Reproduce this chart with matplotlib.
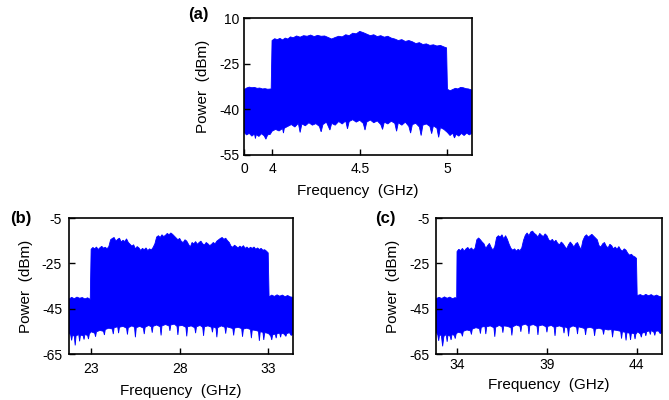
import numpy as np
import matplotlib
matplotlib.use("Agg")
import matplotlib.pyplot as plt

plt.rcParams['font.family'] = ['Liberation Sans', 'DejaVu Sans']

# spectrum envelopes: (frequency, dBm)
a_upper = [(3.84, -33.6), (3.855, -33.0), (3.87, -32.7), (3.885, -32.9), (3.90, -32.8), (3.915, -33.1),
           (3.93, -33.0), (3.945, -33.3), (3.96, -33.2), (3.975, -33.4), (3.995, -33.3),
           (4.00, -17.4), (4.015, -16.8), (4.03, -17.1), (4.045, -16.7), (4.06, -17.2), (4.075, -16.6),
           (4.09, -16.9), (4.105, -16.2), (4.12, -16.5), (4.14, -15.9), (4.16, -16.3), (4.18, -15.8),
           (4.20, -16.0), (4.22, -15.6), (4.24, -16.1), (4.26, -15.7), (4.28, -16.0), (4.30, -15.9),
           (4.32, -16.4), (4.34, -16.9), (4.36, -16.4), (4.38, -16.0), (4.40, -16.2), (4.42, -15.5),
           (4.44, -15.8), (4.46, -15.0), (4.48, -15.2), (4.50, -14.4), (4.52, -14.8), (4.54, -15.3),
           (4.56, -15.8), (4.58, -15.5), (4.60, -16.1), (4.62, -15.8), (4.64, -16.3), (4.66, -16.0),
           (4.68, -16.6), (4.70, -16.9), (4.72, -17.4), (4.74, -17.1), (4.76, -17.7), (4.78, -17.4),
           (4.80, -17.8), (4.82, -18.4), (4.84, -18.1), (4.86, -18.7), (4.88, -18.5), (4.90, -19.0),
           (4.92, -18.8), (4.94, -19.2), (4.96, -19.0), (4.98, -19.5), (4.995, -19.8),
           (5.00, -33.4), (5.015, -33.9), (5.03, -33.5), (5.045, -33.1), (5.06, -33.3), (5.075, -32.8),
           (5.09, -32.9), (5.105, -33.2), (5.12, -33.3), (5.14, -33.7)]
a_lower = [(3.84, -47.6), (3.855, -48.4), (3.87, -47.9), (3.885, -48.8), (3.90, -48.1), (3.905, -49.6),
           (3.91, -48.3), (3.925, -48.9), (3.94, -48.0), (3.955, -48.7), (3.965, -49.8), (3.975, -48.4),
           (3.99, -48.2),
           (4.00, -47.2), (4.02, -46.6), (4.04, -47.1), (4.06, -46.3), (4.065, -47.8), (4.07, -46.2),
           (4.09, -45.6), (4.11, -45.0), (4.13, -45.8), (4.15, -44.6), (4.16, -47.6), (4.17, -44.8),
           (4.19, -45.4), (4.21, -44.4), (4.23, -45.2), (4.25, -44.7), (4.27, -45.6), (4.28, -47.4),
           (4.29, -45.0), (4.31, -44.2), (4.33, -46.8), (4.34, -44.6), (4.36, -45.2), (4.38, -44.0),
           (4.40, -44.8), (4.42, -43.8), (4.43, -46.4), (4.44, -44.0), (4.46, -43.4), (4.48, -44.2),
           (4.50, -43.6), (4.52, -44.6), (4.53, -46.8), (4.54, -44.2), (4.56, -43.5), (4.58, -44.4),
           (4.60, -43.8), (4.62, -45.0), (4.63, -46.6), (4.64, -44.2), (4.66, -44.8), (4.68, -43.9),
           (4.70, -44.6), (4.71, -47.2), (4.72, -44.4), (4.74, -45.2), (4.76, -44.2), (4.78, -45.6),
           (4.79, -47.8), (4.80, -45.0), (4.82, -44.6), (4.84, -45.8), (4.85, -48.6), (4.86, -45.2),
           (4.88, -44.8), (4.90, -45.6), (4.91, -48.0), (4.92, -45.4), (4.94, -46.2), (4.95, -49.2),
           (4.96, -46.0), (4.98, -46.6),
           (5.00, -47.6), (5.015, -48.6), (5.03, -47.8), (5.04, -49.4), (5.05, -48.2), (5.065, -48.8),
           (5.08, -47.9), (5.095, -48.6), (5.11, -47.8), (5.125, -48.4), (5.14, -47.8)]

b_upper = [(21.75, -40.8), (21.9, -40.0), (22.05, -40.6), (22.2, -39.9), (22.35, -40.4), (22.5, -40.1),
           (22.65, -40.7), (22.8, -40.2), (22.95, -40.9),
           (23.0, -18.8), (23.1, -18.0), (23.2, -18.6), (23.3, -17.8), (23.4, -18.9), (23.5, -18.1),
           (23.6, -17.5), (23.7, -18.3), (23.8, -17.9), (23.9, -18.6), (24.0, -17.6), (24.1, -14.6),
           (24.2, -14.0), (24.3, -13.6), (24.4, -15.2), (24.5, -14.4), (24.6, -13.9), (24.7, -15.6),
           (24.8, -14.8), (24.9, -15.4), (25.0, -14.2), (25.1, -15.8), (25.2, -16.6), (25.3, -17.4),
           (25.4, -16.8), (25.5, -18.6), (25.6, -17.6), (25.7, -18.2), (25.8, -19.3), (25.9, -18.4),
           (26.0, -19.0), (26.1, -18.2), (26.2, -19.4), (26.3, -18.6), (26.4, -19.1), (26.5, -18.0),
           (26.6, -16.4), (26.7, -13.4), (26.8, -12.8), (26.9, -13.6), (27.0, -12.4), (27.1, -13.2),
           (27.2, -12.6), (27.3, -11.8), (27.4, -12.4), (27.5, -11.6), (27.6, -12.2), (27.7, -13.0),
           (27.8, -13.8), (27.9, -14.6), (28.0, -14.0), (28.1, -15.4), (28.2, -15.8), (28.3, -14.6),
           (28.4, -15.2), (28.5, -16.6), (28.6, -17.8), (28.7, -15.8), (28.8, -16.4), (28.9, -15.4),
           (29.0, -16.6), (29.1, -15.8), (29.2, -15.2), (29.3, -16.4), (29.4, -16.9), (29.5, -15.8),
           (29.6, -16.4), (29.7, -17.2), (29.8, -16.6), (29.9, -15.8), (30.0, -16.4), (30.1, -15.2),
           (30.2, -14.6), (30.3, -14.0), (30.4, -13.6), (30.5, -14.4), (30.6, -13.9), (30.7, -15.0),
           (30.8, -15.8), (30.9, -17.4), (31.0, -17.9), (31.1, -17.0), (31.2, -17.6), (31.3, -18.2),
           (31.4, -17.4), (31.5, -18.0), (31.6, -17.2), (31.7, -18.4), (31.8, -17.8), (31.9, -18.6),
           (32.0, -17.9), (32.1, -18.4), (32.2, -17.8), (32.3, -18.8), (32.4, -18.2), (32.5, -18.9),
           (32.6, -18.4), (32.7, -19.2), (32.8, -19.0), (32.9, -19.6), (33.0, -20.4),
           (33.05, -39.8), (33.2, -39.0), (33.35, -39.6), (33.5, -38.9), (33.65, -39.5), (33.8, -39.0),
           (33.95, -39.7), (34.1, -39.2), (34.25, -39.8), (34.4, -40.0)]
b_lower = [(21.75, -55.6), (21.85, -56.8), (21.9, -59.0), (21.95, -56.6), (22.05, -57.2), (22.1, -61.2),
           (22.15, -57.0), (22.3, -56.4), (22.35, -59.4), (22.4, -56.6), (22.55, -57.0), (22.6, -58.6),
           (22.65, -56.4), (22.8, -56.8), (22.85, -58.4), (22.9, -56.2),
           (23.0, -55.2), (23.2, -55.8), (23.25, -57.4), (23.3, -55.2), (23.5, -54.6), (23.7, -55.0),
           (23.75, -56.6), (23.8, -54.2), (24.0, -53.6), (24.2, -54.0), (24.25, -56.2), (24.3, -53.4),
           (24.5, -53.0), (24.55, -55.8), (24.6, -53.2), (24.8, -52.8), (25.0, -53.6), (25.05, -56.4),
           (25.1, -53.4), (25.3, -52.6), (25.45, -53.2), (25.5, -57.6), (25.55, -53.4), (25.75, -52.8),
           (25.95, -53.6), (26.0, -56.2), (26.05, -53.2), (26.25, -52.4), (26.4, -53.0), (26.45, -55.6),
           (26.5, -52.8), (26.7, -52.2), (26.9, -53.0), (26.95, -56.8), (27.0, -52.6), (27.2, -52.0),
           (27.4, -52.6), (27.45, -54.8), (27.5, -52.2), (27.7, -51.8), (27.85, -52.8), (27.9, -56.6),
           (27.95, -52.6), (28.15, -52.4), (28.35, -53.2), (28.4, -57.2), (28.45, -53.0), (28.65, -52.6),
           (28.85, -53.4), (28.9, -55.8), (28.95, -53.0), (29.15, -52.4), (29.3, -53.2), (29.35, -57.0),
           (29.4, -53.0), (29.6, -52.6), (29.8, -53.2), (29.85, -55.4), (29.9, -53.0), (30.05, -53.6),
           (30.1, -57.6), (30.15, -53.4), (30.35, -52.6), (30.55, -53.2), (30.6, -56.0), (30.65, -53.0),
           (30.85, -53.4), (31.0, -53.8), (31.05, -56.8), (31.1, -53.6), (31.3, -53.2), (31.5, -53.8),
           (31.55, -57.4), (31.6, -54.0), (31.8, -53.6), (32.0, -54.2), (32.05, -58.0), (32.1, -54.4),
           (32.3, -54.6), (32.45, -55.0), (32.5, -59.2), (32.55, -55.2), (32.7, -55.4), (32.75, -58.8),
           (32.8, -55.6), (32.95, -55.8),
           (33.05, -56.2), (33.15, -57.2), (33.2, -58.8), (33.25, -56.6), (33.4, -56.2), (33.45, -58.0),
           (33.5, -56.0), (33.65, -55.8), (33.7, -57.6), (33.75, -55.8), (33.9, -56.2), (34.0, -57.2),
           (34.05, -56.0), (34.2, -55.6), (34.3, -56.8), (34.4, -56.2)]

c_upper = [(32.83, -40.6), (33.0, -40.0), (33.15, -40.5), (33.3, -39.8), (33.45, -40.4), (33.6, -39.9),
           (33.75, -40.6), (33.9, -40.1), (33.98, -40.7),
           (34.0, -19.8), (34.1, -18.8), (34.2, -19.4), (34.3, -18.4), (34.4, -19.6), (34.5, -18.6),
           (34.6, -18.0), (34.7, -19.0), (34.8, -18.2), (34.9, -19.2), (35.0, -18.4), (35.1, -14.6),
           (35.2, -13.8), (35.3, -14.6), (35.4, -15.6), (35.5, -16.4), (35.6, -18.4), (35.7, -17.2),
           (35.8, -16.2), (35.9, -18.0), (36.0, -19.2), (36.1, -17.6), (36.2, -13.6), (36.3, -12.8),
           (36.4, -13.4), (36.5, -12.4), (36.6, -14.2), (36.7, -12.8), (36.8, -14.4), (36.9, -16.6),
           (37.0, -18.4), (37.1, -19.2), (37.2, -18.6), (37.3, -19.6), (37.4, -18.8), (37.5, -19.4),
           (37.6, -18.2), (37.7, -14.8), (37.8, -12.6), (37.9, -11.6), (38.0, -12.8), (38.1, -11.2),
           (38.2, -10.8), (38.3, -11.8), (38.4, -12.4), (38.5, -13.4), (38.6, -11.8), (38.7, -12.6),
           (38.8, -13.2), (38.9, -12.0), (39.0, -12.8), (39.1, -14.6), (39.2, -15.2), (39.3, -14.4),
           (39.4, -15.6), (39.5, -14.8), (39.6, -16.2), (39.7, -16.8), (39.8, -15.6), (39.9, -16.4),
           (40.0, -17.6), (40.1, -18.6), (40.2, -16.8), (40.3, -15.6), (40.4, -16.6), (40.5, -17.8),
           (40.6, -16.4), (40.7, -15.8), (40.8, -17.6), (40.9, -18.8), (41.0, -15.0), (41.1, -13.2),
           (41.2, -12.4), (41.3, -13.4), (41.4, -12.8), (41.5, -12.2), (41.6, -13.0), (41.7, -13.8),
           (41.8, -14.6), (41.9, -17.2), (42.0, -17.8), (42.1, -16.4), (42.2, -15.8), (42.3, -17.4),
           (42.4, -18.2), (42.5, -16.6), (42.6, -17.2), (42.7, -18.6), (42.8, -17.8), (42.9, -18.8),
           (43.0, -17.6), (43.1, -19.0), (43.2, -19.6), (43.3, -18.6), (43.4, -19.2), (43.5, -20.6),
           (43.6, -21.4), (43.7, -21.0), (43.8, -21.8), (43.9, -22.2), (43.98, -22.8),
           (44.02, -39.2), (44.2, -38.8), (44.35, -39.4), (44.5, -38.7), (44.65, -39.3), (44.8, -38.8),
           (44.95, -39.5), (45.1, -39.0), (45.25, -39.6), (45.4, -39.8)]
c_lower = [(32.83, -55.2), (32.93, -56.6), (32.98, -59.2), (33.03, -56.4), (33.13, -57.0), (33.2, -61.6),
           (33.27, -57.2), (33.4, -56.4), (33.45, -59.6), (33.5, -56.6), (33.62, -57.2), (33.67, -58.8),
           (33.72, -56.4), (33.85, -56.8), (33.9, -58.2), (33.95, -56.2),
           (34.05, -55.4), (34.25, -55.8), (34.3, -57.2), (34.35, -55.0), (34.55, -54.4), (34.75, -54.8),
           (34.8, -56.4), (34.85, -54.0), (35.05, -53.4), (35.25, -53.8), (35.3, -56.0), (35.35, -53.2),
           (35.55, -52.8), (35.6, -56.2), (35.65, -53.0), (35.85, -52.6), (36.05, -53.4), (36.1, -57.4),
           (36.15, -53.2), (36.35, -52.4), (36.5, -53.0), (36.55, -55.6), (36.6, -52.6), (36.8, -52.8),
           (37.0, -53.4), (37.05, -56.8), (37.1, -53.0), (37.3, -52.2), (37.5, -52.8), (37.55, -55.2),
           (37.6, -52.4), (37.8, -51.8), (37.95, -52.6), (38.0, -56.2), (38.05, -52.4), (38.25, -52.0),
           (38.45, -52.8), (38.5, -56.6), (38.55, -52.6), (38.75, -52.2), (38.95, -53.0), (39.0, -55.4),
           (39.05, -52.8), (39.25, -52.4), (39.4, -53.2), (39.45, -57.0), (39.5, -53.0), (39.7, -52.6),
           (39.9, -53.2), (39.95, -55.8), (40.0, -53.0), (40.15, -53.6), (40.2, -57.2), (40.25, -53.4),
           (40.45, -52.6), (40.65, -53.2), (40.7, -56.2), (40.75, -53.0), (40.95, -53.4), (41.1, -53.8),
           (41.15, -56.6), (41.2, -53.6), (41.4, -53.2), (41.6, -53.8), (41.65, -57.0), (41.7, -54.0),
           (41.9, -53.6), (42.1, -54.2), (42.15, -56.4), (42.2, -54.0), (42.4, -54.4), (42.6, -54.2),
           (42.65, -57.6), (42.7, -54.4), (42.9, -54.6), (43.1, -55.0), (43.15, -58.2), (43.2, -55.2),
           (43.35, -55.4), (43.4, -59.0), (43.45, -55.6), (43.6, -55.8), (43.65, -58.8), (43.7, -55.8),
           (43.85, -56.0), (43.9, -58.4), (43.95, -56.2),
           (44.05, -55.2), (44.2, -56.2), (44.25, -57.6), (44.3, -55.8), (44.45, -55.4), (44.5, -57.0),
           (44.55, -55.2), (44.7, -54.8), (44.75, -56.4), (44.8, -54.6), (44.95, -55.4), (45.0, -56.8),
           (45.05, -55.0), (45.2, -54.8), (45.3, -56.0), (45.4, -55.4)]

a_xticks = [3.84, 4, 4.5, 5]
a_xticklabels = ['0', '4', '4.5', '5']
a_yticks = [-10, -25, -40, -55]
a_yticklabels = ['10', '-25', '-40', '-55']
b_xticks = [23, 28, 33]
c_xticks = [34, 39, 44]
bc_yticks = [-5, -25, -45, -65]
bc_yticklabels = ['-5', '-25', '-45', '-65']

BLUE = '#0000ff'

fig = plt.figure(figsize=(6.69, 4.0), dpi=100)


def panel(rect, upper, lower, xlim, ylim, xticks, xticklabels, yticks, yticklabels,
          ylab_x, xlab_y, xpad, ypad):
    ax = fig.add_axes(rect)
    up = np.array(upper)
    lo = np.array(lower)[::-1]
    ax.fill(np.concatenate([up[:, 0], lo[:, 0]]), np.concatenate([up[:, 1], lo[:, 1]]),
            color=BLUE, lw=0.6)
    ax.set_xlim(*xlim)
    ax.set_ylim(*ylim)
    ax.set_xticks(xticks)
    ax.set_xticklabels(xticklabels)
    ax.set_yticks(yticks)
    ax.set_yticklabels(yticklabels)
    ax.tick_params(direction='in', length=4, width=1, labelsize=10)
    ax.tick_params(axis='x', pad=xpad)
    ax.tick_params(axis='y', pad=ypad)
    for s in ax.spines.values():
        s.set_linewidth(1.2)
    ax.set_xlabel('Frequency  (GHz)', fontsize=11)
    ax.set_ylabel('Power  (dBm)', fontsize=11)
    ax.xaxis.set_label_coords(0.5, xlab_y)
    ax.yaxis.set_label_coords(ylab_x, 0.5)
    return ax


panel([244 / 669, 1 - 155 / 400, 228 / 669, 137 / 400], a_upper, a_lower,
      (3.84, 5.14), (-55, -10), a_xticks, a_xticklabels, a_yticks, a_yticklabels,
      -0.15, -0.21, 5, 3)
panel([69 / 669, 1 - 354 / 400, 224 / 669, 136 / 400], b_upper, b_lower,
      (21.75, 34.4), (-65, -5), b_xticks, [str(t) for t in b_xticks], bc_yticks, bc_yticklabels,
      -0.16, -0.22, 6, 5)
panel([436 / 669, 1 - 354 / 400, 226 / 669, 136 / 400], c_upper, c_lower,
      (32.83, 45.4), (-65, -5), c_xticks, [str(t) for t in c_xticks], bc_yticks, bc_yticklabels,
      -0.16, -0.18, 3, 4.5)

fig.text(198 / 669, 1 - 15 / 400, '(a)', fontsize=12, fontweight='bold', ha='center', va='center')
fig.text(21 / 669, 1 - 218 / 400, '(b)', fontsize=12, fontweight='bold', ha='center', va='center')
fig.text(385 / 669, 1 - 218 / 400, '(c)', fontsize=12, fontweight='bold', ha='center', va='center')

fig.savefig('out.png', dpi=100)
